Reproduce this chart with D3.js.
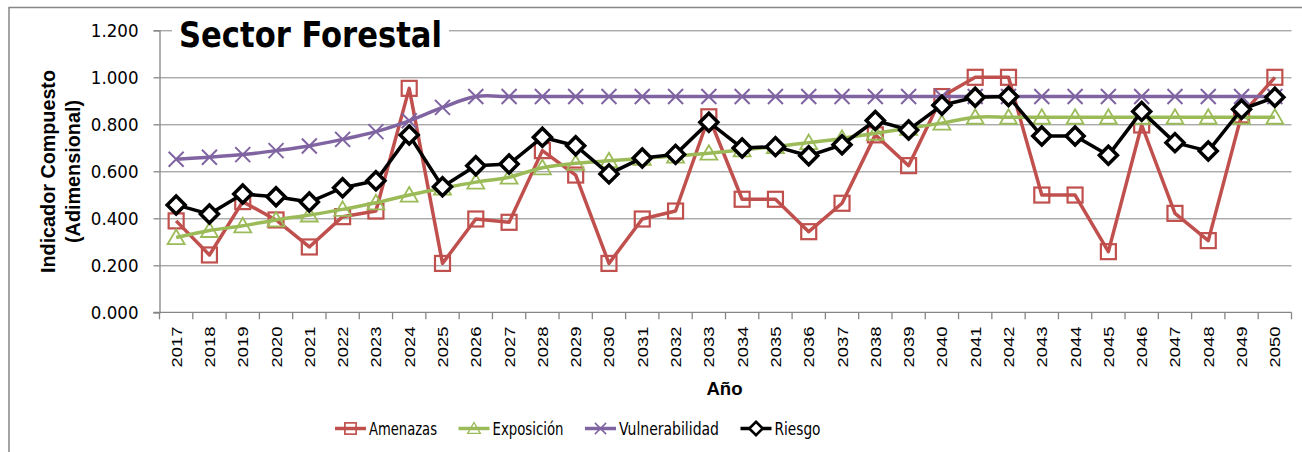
<!DOCTYPE html>
<html lang="es">
<head>
    <meta charset="UTF-8">
    <title>Sector Forestal</title>
    <script src="https://d3js.org/d3.v7.min.js"></script>
    <style>
        body { margin: 0; background: #fff; }
        svg { display: block; }
        .grid line { stroke: #868686; stroke-width: 1; }
        .grid .domain { display: none; }
        .axis .domain, .axis line { stroke: #868686; stroke-width: 1.3; }
        .axis text { fill: #000; }
    </style>
</head>
<body>
    <svg width="1302" height="452"></svg>

    <script>
        // chart data
        const years = d3.range(2017, 2051).map(String);

        const amenazas = [0.389, 0.244, 0.471, 0.393, 0.278, 0.407, 0.431, 0.953, 0.208, 0.397,
            0.383, 0.688, 0.584, 0.208, 0.397, 0.431, 0.832, 0.481, 0.481, 0.343,
            0.464, 0.755, 0.624, 0.918, 1.000, 1.000, 0.499, 0.499, 0.258, 0.797,
            0.421, 0.305, 0.840, 1.000];

        const exposicion = [0.318, 0.348, 0.368, 0.393, 0.414, 0.438, 0.466, 0.499, 0.528, 0.554,
            0.575, 0.615, 0.634, 0.645, 0.655, 0.665, 0.677, 0.691, 0.705, 0.722,
            0.740, 0.762, 0.783, 0.805, 0.830, 0.830, 0.830, 0.830, 0.830, 0.830,
            0.830, 0.830, 0.830, 0.830];

        const vulnerabilidad = [0.651, 0.660, 0.671, 0.688, 0.708, 0.736, 0.769, 0.815, 0.872, 0.918,
            0.918, 0.918, 0.918, 0.918, 0.918, 0.918, 0.918, 0.918, 0.918, 0.918,
            0.918, 0.918, 0.918, 0.918, 0.918, 0.918, 0.918, 0.918, 0.918, 0.918,
            0.918, 0.918, 0.918, 0.918];

        const riesgo = [0.457, 0.418, 0.503, 0.492, 0.469, 0.530, 0.560, 0.754, 0.534, 0.624,
            0.631, 0.745, 0.709, 0.589, 0.657, 0.672, 0.809, 0.699, 0.705, 0.666,
            0.713, 0.816, 0.776, 0.881, 0.915, 0.918, 0.750, 0.750, 0.668, 0.855,
            0.722, 0.686, 0.864, 0.915];

        const yTicks = [0, 0.2, 0.4, 0.6, 0.8, 1.0, 1.2];

        const series = [
            { name: "Amenazas", values: amenazas, color: "#C0504D", marker: "square", smooth: false, textW: 68 },
            { name: "Exposición", values: exposicion, color: "#9BBB59", marker: "triangle", smooth: true, textW: 71 },
            { name: "Vulnerabilidad", values: vulnerabilidad, color: "#8064A2", marker: "cross", smooth: true, textW: 100 },
            { name: "Riesgo", values: riesgo, color: "#000000", marker: "diamond", smooth: false, textW: 46 }
        ];

        const svg = d3.select("svg");

        // outer chart border (runs off the right and bottom of the picture)
        svg.append("rect")
            .attr("x", 9).attr("y", 7.5)
            .attr("width", 1400).attr("height", 500)
            .attr("fill", "none")
            .attr("stroke", "#868686")
            .attr("stroke-width", 1.5);

        const plot = { left: 159.5, right: 1291.5, top: 30.3, bottom: 312.3 };

        const x = d3.scaleBand().domain(years).range([plot.left, plot.right]);
        const y = d3.scaleLinear().domain([0, 1.2]).range([plot.bottom, plot.top]);
        const cx = d => x(d) + x.bandwidth() / 2;

        // gridlines
        svg.append("g")
            .attr("class", "grid")
            .attr("transform", `translate(${plot.left},0)`)
            .call(d3.axisLeft(y).tickValues(yTicks.slice(1)).tickSize(-(plot.right - plot.left)).tickFormat(""));

        // y axis
        const yAxis = svg.append("g")
            .attr("class", "axis")
            .attr("transform", `translate(${plot.left},0)`)
            .call(d3.axisLeft(y).tickValues(yTicks).tickSize(6).tickPadding(15).tickFormat(d3.format(".3f")));
        yAxis.selectAll("text")
            .style("font-family", "'DejaVu Sans Condensed', 'DejaVu Sans', sans-serif")
            .style("font-size", "18.5px")
            .attr("dy", "0.36em");

        // x axis: line, ticks between categories, rotated labels
        const xAxis = svg.append("g").attr("class", "axis");
        xAxis.append("line")
            .attr("x1", plot.left - 6).attr("x2", plot.right)
            .attr("y1", plot.bottom).attr("y2", plot.bottom);
        xAxis.selectAll("line.tk")
            .data(years.map(d => x(d)).concat([plot.right]))
            .join("line")
            .attr("class", "tk")
            .attr("x1", d => d).attr("x2", d => d)
            .attr("y1", plot.bottom).attr("y2", plot.bottom + 7);
        xAxis.selectAll("text")
            .data(years)
            .join("text")
            .attr("transform", d => `translate(${cx(d) + 5.5},326.5) rotate(-90)`)
            .attr("text-anchor", "end")
            .attr("textLength", 41)
            .attr("lengthAdjust", "spacingAndGlyphs")
            .style("font-family", "'Liberation Sans', Arial, sans-serif")
            .style("font-size", "15.5px")
            .text(d => d);

        // axis titles
        svg.append("text")
            .attr("x", 724.5).attr("y", 395)
            .attr("text-anchor", "middle")
            .style("font-family", "'Liberation Sans', Arial, sans-serif")
            .style("font-weight", "bold")
            .style("font-size", "18.6px")
            .text("Año");

        const yTitle = svg.append("text")
            .attr("transform", "translate(0,171.5) rotate(-90)")
            .attr("text-anchor", "middle")
            .style("font-family", "'Liberation Sans', Arial, sans-serif")
            .style("font-weight", "bold")
            .style("font-size", "19.5px");
        yTitle.append("tspan").attr("x", 0).attr("y", 55)
            .attr("textLength", 203).attr("lengthAdjust", "spacingAndGlyphs")
            .text("Indicador Compuesto");
        yTitle.append("tspan").attr("x", 0).attr("y", 79.5)
            .attr("textLength", 143).attr("lengthAdjust", "spacingAndGlyphs")
            .text("(Adimensional)");

        // marker shapes
        function drawMarker(sel, type, color) {
            if (type === "square") {
                sel.append("rect")
                    .attr("x", -7.5).attr("y", -7.5).attr("width", 15).attr("height", 15)
                    .attr("fill", "none").attr("stroke", color).attr("stroke-width", 2.2);
            } else if (type === "triangle") {
                sel.append("path")
                    .attr("d", "M0,-8L8.5,6.5L-8.5,6.5Z")
                    .attr("fill", "none").attr("stroke", color).attr("stroke-width", 1.8);
            } else if (type === "cross") {
                sel.append("path")
                    .attr("d", "M-7.5,-7.5L7.5,7.5M-7.5,7.5L7.5,-7.5")
                    .attr("fill", "none").attr("stroke", color).attr("stroke-width", 2);
            } else {
                sel.append("path")
                    .attr("d", "M0,-9L9,0L0,9L-9,0Z")
                    .attr("fill", "#fff").attr("stroke", color).attr("stroke-width", 3.5);
            }
        }

        // series lines + markers
        series.forEach(s => {
            const pts = years.map((yr, i) => ({ yr: yr, v: s.values[i] }));
            const line = d3.line()
                .x(d => cx(d.yr))
                .y(d => y(d.v))
                .curve(s.smooth ? d3.curveCatmullRom.alpha(0) : d3.curveLinear);

            const g = svg.append("g");
            g.append("path")
                .datum(pts)
                .attr("fill", "none")
                .attr("stroke", s.color)
                .attr("stroke-width", 3.5)
                .attr("stroke-linejoin", "round")
                .attr("d", line);

            g.selectAll("g.mk")
                .data(pts)
                .join("g")
                .attr("class", "mk")
                .attr("transform", d => `translate(${cx(d.yr)},${y(d.v)})`)
                .each(function () { drawMarker(d3.select(this), s.marker, s.color); });
        });

        // title with white box behind it
        svg.append("rect")
            .attr("x", 172).attr("y", 14).attr("width", 277).attr("height", 42)
            .attr("fill", "#fff");
        svg.append("text")
            .attr("x", 179).attr("y", 46.5)
            .attr("textLength", 263)
            .attr("lengthAdjust", "spacingAndGlyphs")
            .style("font-family", "'DejaVu Sans Condensed', 'DejaVu Sans', sans-serif")
            .style("font-weight", "bold")
            .style("font-size", "35.5px")
            .text("Sector Forestal");

        // legend
        const legend = svg.append("g").attr("transform", "translate(335,428.5)");
        let lx = 0;
        series.forEach(s => {
            const item = legend.append("g").attr("transform", `translate(${lx},0)`);
            item.append("line")
                .attr("x1", 0).attr("x2", 31)
                .attr("stroke", s.color).attr("stroke-width", 3.5);
            const m = item.append("g").attr("transform", "translate(15.5,0) scale(0.75)");
            drawMarker(m, s.marker, s.color);
            item.append("text")
                .attr("x", 34).attr("y", 0).attr("dy", "0.36em")
                .attr("textLength", s.textW)
                .attr("lengthAdjust", "spacingAndGlyphs")
                .style("font-family", "'DejaVu Sans Condensed', 'DejaVu Sans', sans-serif")
                .style("font-size", "18.5px")
                .text(s.name);
            lx += 34 + s.textW + 21.5;
        });
    </script>
</body>
</html>
